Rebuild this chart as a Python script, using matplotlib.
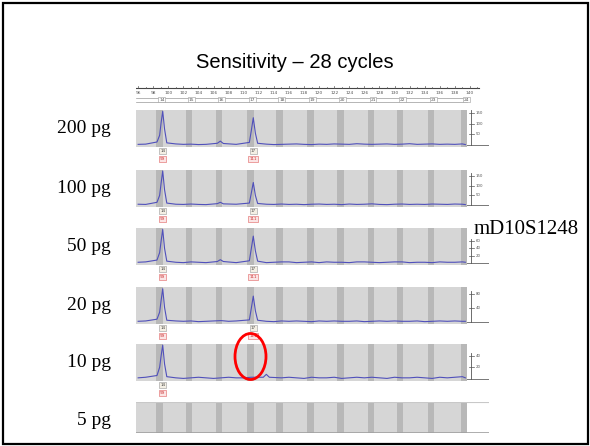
import numpy as np
import matplotlib
matplotlib.use("Agg")
import matplotlib.pyplot as plt
from matplotlib.patches import Rectangle, Ellipse

W, H = 590, 446

# ---- data ----
title = "Sensitivity \u2013 28 cycles"
marker = "mD10S1248"
amounts = ["200 pg", "100 pg", "50 pg", "20 pg", "10 pg", "5 pg"]
ruler_bp = [96, 98, 100, 102, 104, 106, 108, 110, 112, 114, 116, 118,
            120, 122, 124, 126, 128, 130, 132, 134, 136, 138, 140]
alleles = ["14", "15", "16", "17", "18", "19", "20", "21", "22", "23", "24"]
bin_bp = [98.85, 102.75, 106.75, 110.9, 114.75, 118.85, 122.85, 126.85,
          130.75, 134.85, 139.25]

# full-scale RFU and right-hand scale ticks per panel (5 pg has no trace)
ymax = [163, 182, 95, 100, 60, None]
scale_ticks = [[50, 100, 150], [50, 100, 150], [20, 40, 60], [40, 80],
               [20, 40], []]

# baseline noise, one value per bp from 96 to 139
noise_bp = list(range(96, 140))
noise = [
    [3, 4, 3, 6, 9, 5, 3, 4, 2, 3, 5, 8, 4, 3, 5, 6, 3, 4, 2, 3, 4, 5,
     3, 2, 4, 3, 5, 4, 3, 6, 4, 3, 4, 5, 3, 4, 6, 3, 4, 5, 3, 4, 3, 5],
    [4, 3, 5, 7, 10, 4, 3, 5, 3, 2, 4, 9, 3, 4, 6, 5, 2, 4, 3, 5, 3, 4,
     2, 4, 5, 3, 4, 2, 5, 3, 4, 6, 3, 2, 4, 5, 3, 4, 3, 5, 4, 3, 5, 4],
    [2, 3, 3, 4, 6, 2, 1, 3, 2, 1, 3, 6, 2, 1, 3, 3, 2, 1, 2, 3, 3, 1,
     2, 3, 1, 3, 2, 2, 1, 3, 3, 2, 1, 2, 3, 3, 1, 2, 2, 1, 3, 2, 2, 3],
    [2, 3, 2, 4, 6, 3, 2, 3, 1, 2, 3, 4, 2, 3, 3, 2, 3, 2, 1, 3, 2, 3,
     2, 1, 3, 2, 3, 2, 2, 3, 1, 2, 3, 2, 3, 2, 2, 3, 1, 2, 3, 2, 3, 2],
    [2, 3, 2, 3, 4, 2, 1, 2, 3, 2, 1, 2, 3, 2, 2, 3, 2, 3, 1, 2, 3, 2,
     1, 3, 2, 2, 3, 1, 2, 3, 2, 3, 2, 1, 3, 2, 2, 3, 2, 1, 3, 2, 3, 4],
    None,
]

# peak points (bp, RFU) per panel
peak_bp = [
    [98.5, 98.85, 99.05, 99.26, 99.5, 99.8, 106.5, 106.9, 107.3,
     110.75, 111.0, 111.27, 111.55, 111.85],
    [98.5, 98.85, 99.05, 99.26, 99.5, 99.8, 106.5, 106.9, 107.3,
     110.75, 111.0, 111.27, 111.55, 111.85],
    [98.5, 98.85, 99.05, 99.26, 99.5, 99.8, 106.5, 106.9, 107.3,
     110.75, 111.0, 111.27, 111.55, 111.85],
    [98.5, 98.85, 99.05, 99.26, 99.5, 99.8,
     110.75, 111.0, 111.27, 111.55, 111.85],
    [98.5, 98.85, 99.05, 99.26, 99.5, 99.8, 112.6, 113.0, 113.4],
    [],
]
peak_rfu = [
    [14, 45, 105, 157, 75, 10, 8, 18, 7, 12, 65, 127, 55, 8],
    [14, 50, 115, 177, 80, 10, 7, 14, 6, 10, 60, 117, 50, 8],
    [8, 28, 60, 91, 40, 5, 4, 9, 4, 6, 38, 73, 33, 5],
    [8, 28, 62, 95, 42, 5, 6, 38, 74, 32, 5],
    [6, 20, 40, 58, 26, 4, 3, 8, 3],
    [],
]
# called alleles (label, size) under the peaks
calls = [[("14", "99"), ("17", "111")], [("14", "99"), ("17", "111")],
         [("14", "99"), ("17", "111")], [("14", "99"), ("17", "111")],
         [("14", "99")], []]
call_bp = [[99.26, 111.27]] * 4 + [[99.26], []]

# ---- layout helpers (pixel space) ----
X0, X1 = 136, 489
PX_PER_BP = 7.54
BP0 = 100 + (X0 - 168.3) / PX_PER_BP
BP1 = 100 + (X1 - 168.3) / PX_PER_BP
GREY_END = 100 + (467 - 168.3) / PX_PER_BP
SCALE_BP = 100 + (471 - 168.3) / PX_PER_BP


def px_axes(x0, y0, x1, y1):
    ax = fig.add_axes([x0 / W, 1 - y1 / H, (x1 - x0) / W, (y1 - y0) / H])
    ax.set_axis_off()
    return ax


def fx(x):
    return x / W


def fy(y):
    return 1 - y / H


fig = plt.figure(figsize=(W / 100, H / 100), dpi=100)
fig.patch.set_facecolor("white")

fig.add_artist(Rectangle((fx(3), fy(444)), fx(585), 441 / H, fill=False,
                         ec="black", lw=1.6, transform=fig.transFigure))

fig.text(fx(295), fy(68), title, ha="center", va="baseline",
         fontsize=14.5, family="Liberation Sans")
fig.text(fx(474), fy(234), marker, ha="left", va="baseline",
         fontsize=15, family="Liberation Serif")

# ruler
rax = px_axes(X0, 82, X1, 108)
rax.set_xlim(BP0, BP1)
rax.set_ylim(108, 82)
rax.plot([BP0, 141.2], [88, 88], color="#444444", lw=0.8)
for b in range(96, 142):
    top = 85.5 if b % 2 == 0 else 86.5
    rax.plot([b, b], [top, 88], color="#555555", lw=0.5)
for b in ruler_bp:
    rax.text(b, 93.5, str(b), ha="center", va="center", fontsize=3.2,
             color="#555555")
rax.plot([BP0, GREY_END], [97.5, 97.5], color="#999999", lw=0.5)
rax.plot([BP0, GREY_END], [102, 102], color="#999999", lw=0.5)
for b, a in zip(bin_bp, alleles):
    rax.text(b + 0.3, 99.8, a, ha="center", va="center", fontsize=3.2,
             color="#555555",
             bbox=dict(boxstyle="square,pad=0.15", fc="white", ec="#999999",
                       lw=0.4))

tops = [110, 170, 228, 287, 344, 402]
PH = 37
for i, name in enumerate(amounts):
    top = tops[i]
    fig.text(fx(111), fy(top + 23), name, ha="right", va="baseline",
             fontsize=14, family="Liberation Serif")
    if ymax[i] is None:
        ax = px_axes(X0, top, X1, top + 31)
        ax.set_xlim(BP0, BP1)
        ax.set_ylim(0, 1)
        ax.axvspan(BP0, GREY_END, color="#d6d6d6", lw=0)
        for b in bin_bp:
            ax.axvspan(b - 0.42, b + 0.42, color="#b8b8b8", lw=0)
        ax.plot([BP0, BP1], [1, 1], color="#c8c8c8", lw=0.8)
        ax.plot([BP0, BP1], [0, 0], color="#a0a0a0", lw=1.2)
        continue
    ax = px_axes(X0, top, X1, top + PH)
    ax.set_xlim(BP0, BP1)
    ym = ymax[i]
    ax.set_ylim(-ym * 2 / (PH - 2), ym)
    ax.axvspan(BP0, GREY_END, color="#d6d6d6", lw=0)
    for b in bin_bp:
        ax.axvspan(b - 0.42, b + 0.42, color="#b8b8b8", lw=0)
    # trace: baseline noise merged with peak points
    pts = [(b, v) for b, v in zip(noise_bp, noise[i])
           if all(abs(b - p) > 0.8 for p in peak_bp[i])]
    pts += list(zip(peak_bp[i], peak_rfu[i]))
    pts.sort()
    xs = [p[0] for p in pts] + [139.4]
    ys = [p[1] for p in pts] + [2]
    ax.plot(xs, ys, color="#5050bb", lw=0.8, solid_joinstyle="round")
    # right-hand RFU scale
    ax.plot([GREY_END, BP1], [0, 0], color="#777777", lw=0.7)
    ax.plot([SCALE_BP, SCALE_BP], [0, max(scale_ticks[i]) * 1.1],
            color="#555555", lw=0.6)
    for t in scale_ticks[i]:
        ax.plot([SCALE_BP - 0.2, SCALE_BP + 0.4], [t, t], color="#555555",
                lw=0.5)
        ax.text(SCALE_BP + 0.6, t, str(t), fontsize=2.8, va="center",
                ha="left", color="#555555")
    # allele call boxes
    lax = px_axes(X0, top + PH, X1, top + PH + 20)
    lax.set_xlim(BP0, BP1)
    lax.set_ylim(top + PH + 20, top + PH)
    for b, (al, sz) in zip(call_bp[i], calls[i]):
        lax.text(b, top + PH + 4, al, ha="center", va="center", fontsize=3,
                 color="#444444",
                 bbox=dict(boxstyle="square,pad=0.25", fc="#f4efe4",
                           ec="#999999", lw=0.4))
        lax.text(b, top + PH + 12, sz, ha="center", va="center", fontsize=3,
                 color="#cc3333",
                 bbox=dict(boxstyle="square,pad=0.25", fc="#fbe4e4",
                           ec="#e06060", lw=0.4))

fig.add_artist(Ellipse((fx(250.5), fy(356.5)), 31 / W, 46 / H, fill=False,
                       ec="red", lw=2, transform=fig.transFigure))

fig.savefig("out.png", dpi=100)
